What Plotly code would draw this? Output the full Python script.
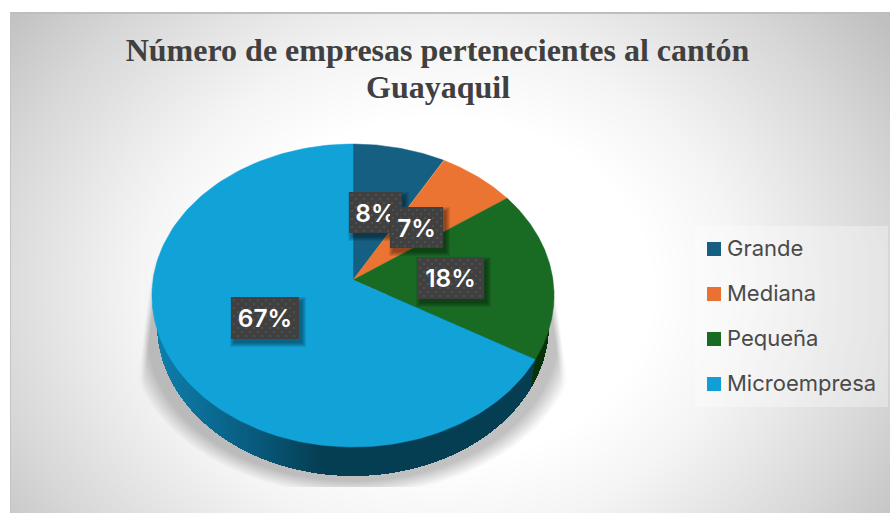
import numpy as np
import plotly.graph_objects as go

# ---------- data ----------
categories = ["Grande", "Mediana", "Pequeña", "Microempresa"]
shares = [8.2, 7.0, 18.2, 66.6]
label_text = [f"{v:.0f}%" for v in shares]
title_lines = ["Número de empresas pertenecientes al cantón", "Guayaquil"]

# ---------- styles / layout ----------
W, H = 890, 513
top_colors = ["#156082", "#EC7433", "#196B24", "#11A2D8"]
legend_colors = ["#156082", "#E97132", "#196B24", "#0F9ED5"]
APEX_X, APEX_Y = 353.0, 280.0
A, C, D = 149.9, 0.1023, 200.0          # perspective of the pie's top face
BASE_CY, BASE_RX, BASE_RY = 325.0, 196.0, 151.0   # lower rim
TOP_CY, TOP_RX, TOP_RY = 295.5, 201.2, 151.5
label_boxes = [(349, 192, 402, 233), (390, 207, 443, 248), (417, 257, 484, 299), (231, 297, 299, 339)]
legend_y = [249, 294, 339, 384]
legend_panel = (695, 226, 888, 407)


def project(theta):
    u, v = np.sin(theta), np.cos(theta)
    den = 1 + C * v
    return APEX_X + D * u / den, APEX_Y - A * v / den


fractions = np.array(shares) / sum(shares)
edges = np.concatenate([[0], np.cumsum(fractions)]) * 2 * np.pi

# ---------- background raster (gradient + soft shadow) ----------
xs = np.arange(W) + 0.5
ys = np.arange(H) + 0.5
X, Y = np.meshgrid(xs, ys)
t = np.sqrt(((X - 440) / 430) ** 2 + ((Y - 290) / 350) ** 2)
bg = np.interp(t, [0.5, 0.7, 0.85, 1.05, 1.29], [255, 245, 233, 216, 192])
r = np.sqrt(((X - APEX_X) / 225) ** 2 + ((Y - 335) / 160) ** 2)
alpha = 0.24 * np.clip((1 - r) / 0.09, 0, 1)
left_soft = np.clip((X - (153 - (Y - 256) * 15 / 122)) / 7, 0, 1) * (Y >= 256)
right_soft = np.clip(((555 + (Y - 290) * 13 / 93) - X) / 7, 0, 1) * (Y >= 290)
side = np.where(X < APEX_X, left_soft, right_soft)
alpha = alpha * side * (Y < 487.5)
bg = bg * (1 - alpha)
bg[:, :10] = 255
bg[:12, :] = 255
bg[12:14, 10:] = 190
bg[12:, 10:11] = 195
bg = bg.astype(np.uint8)

# ---------- side wall rasters ----------
in_base = ((X - APEX_X) / BASE_RX) ** 2 + ((Y - BASE_CY) / BASE_RY) ** 2 <= 1
band = (Y >= TOP_CY) & (Y <= BASE_CY) & (np.abs(X - APEX_X) <= TOP_RX + (BASE_RX - TOP_RX) * (Y - TOP_CY) / (BASE_CY - TOP_CY))
wall = (in_base | band) & (Y >= TOP_CY)
bx, by = project(edges[3])
bx2 = APEX_X + (bx - APEX_X) * BASE_RX / TOP_RX
by2 = BASE_CY + BASE_RY * np.sqrt(max(0, 1 - ((bx2 - APEX_X) / BASE_RX) ** 2))
split_x = bx + (bx2 - bx) * np.clip((Y - by) / (by2 - by), 0, 1)
micro_wall = np.where(wall & (X <= split_x), X, np.nan)
pequena_wall = np.where(wall & (X > split_x), 1.0, np.nan)
wall_scale_x = [150, 200, 260, 300, 322, 540]
wall_scale_c = ["#0E80AF", "#0B6F97", "#08587A", "#06475F", "#053D52", "#053D52"]
wall_scale = [[(v - 150) / 390, c] for v, c in zip(wall_scale_x, wall_scale_c)]

fig = go.Figure()
fig.add_trace(go.Heatmap(x=xs, y=ys, z=bg, zmin=0, zmax=255, showscale=False, hoverinfo="skip",
                         colorscale=[[0, "#000000"], [1, "#ffffff"]]))
fig.add_trace(go.Heatmap(x=xs, y=ys, z=micro_wall, zmin=150, zmax=540, showscale=False, hoverinfo="skip",
                         colorscale=wall_scale))
fig.add_trace(go.Heatmap(x=xs, y=ys, z=pequena_wall, zmin=0, zmax=1, showscale=False, hoverinfo="skip",
                         colorscale=[[0, "#07330A"], [1, "#07330A"]]))

# ---------- pie top face ----------
for i, name in enumerate(categories):
    th = np.linspace(edges[i], edges[i + 1], 160)
    px, py = project(th)
    fig.add_trace(go.Scatter(x=np.r_[APEX_X, px, APEX_X], y=np.r_[APEX_Y, py, APEX_Y], mode="lines",
                             fill="toself", fillcolor=top_colors[i], line=dict(width=0.5, color=top_colors[i]),
                             name=name, showlegend=False, hoverinfo="skip"))

# ---------- data labels ----------
order = [3, 2, 0, 1]
for i in order:
    x0, y0, x1, y1 = label_boxes[i]
    for grow in (4, 3, 2, 1, 0):
        sx0, sy0, sx1, sy1 = x0 + 3 - grow, y0 + 4 - grow, x1 + 3 + grow, y1 + 4 + grow
        fig.add_trace(go.Scatter(x=[sx0, sx1, sx1, sx0, sx0], y=[sy0, sy0, sy1, sy1, sy0], mode="lines",
                                 fill="toself", fillcolor="rgba(0,0,0,0.09)", line=dict(width=0),
                                 showlegend=False, hoverinfo="skip"))
    fig.add_trace(go.Scatter(x=[x0, x1, x1, x0, x0], y=[y0, y0, y1, y1, y0], mode="lines",
                             fill="toself", fillcolor="#404040", line=dict(width=0),
                             showlegend=False, hoverinfo="skip"))
    dx, dy = [], []
    for row, yy in enumerate(np.arange(y0 + 3, y1, 4)):
        for xx in np.arange(x0 + 3 + (row % 2) * 4, x1 - 1, 8):
            dx.append(xx)
            dy.append(yy)
    fig.add_trace(go.Scatter(x=dx, y=dy, mode="markers",
                             marker=dict(symbol="square", size=2, color="#505050", line=dict(width=0)),
                             showlegend=False, hoverinfo="skip"))
    fig.add_trace(go.Scatter(x=[(x0 + x1) / 2], y=[(y0 + y1) / 2 + 3], mode="text", text=[label_text[i]],
                             textposition="middle center",
                             textfont=dict(family="Inter", size=24.5, color="#ffffff", weight=600),
                             showlegend=False, hoverinfo="skip"))

# ---------- legend ----------
lx0, ly0, lx1, ly1 = legend_panel
fig.add_trace(go.Scatter(x=[lx0, lx1, lx1, lx0, lx0], y=[ly0, ly0, ly1, ly1, ly0], mode="lines",
                         fill="toself", fillcolor="rgba(255,255,255,0.32)", line=dict(width=0),
                         showlegend=False, hoverinfo="skip"))
fig.add_trace(go.Scatter(x=[714] * 4, y=legend_y, mode="markers", showlegend=False, hoverinfo="skip",
                         marker=dict(symbol="square", size=14, color=legend_colors, line=dict(width=0))))
fig.add_trace(go.Scatter(x=[727] * 4, y=[v + 1 for v in legend_y], mode="text", text=categories,
                         textposition="middle right",
                         textfont=dict(family="Inter", size=22, color="#4a4a4a"),
                         showlegend=False, hoverinfo="skip"))

fig.update_layout(
    width=W, height=H, margin=dict(l=0, r=0, t=0, b=0), showlegend=False,
    paper_bgcolor="#ffffff", plot_bgcolor="#ffffff",
    xaxis=dict(range=[0, W], visible=False, fixedrange=True),
    yaxis=dict(range=[H, 0], visible=False, fixedrange=True),
    title=dict(text=title_lines[0], x=437.5 / W, xanchor="center", xref="paper",
               y=1 - 49.5 / H, yanchor="middle", yref="container",
               font=dict(family="Liberation Serif", size=32, color="#404040", weight=700)),
    annotations=[dict(text=title_lines[1], x=437.5 / W, y=1 - 87 / H, xref="paper", yref="paper",
                      xanchor="center", yanchor="middle", showarrow=False,
                      font=dict(family="Liberation Serif", size=32, color="#404040", weight=700))],
)
fig.write_html("out.html", config=dict(displayModeBar=False),
               post_script="document.body.style.margin='0';")
